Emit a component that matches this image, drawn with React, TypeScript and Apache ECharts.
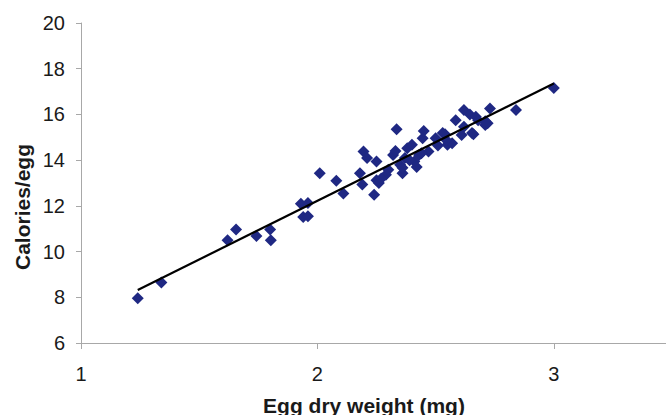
import React, { useEffect, useRef } from "react";
import * as echarts from "echarts";

const eggWeight = [
  1.24, 1.34, 1.62, 1.656, 1.742, 1.803, 1.80, 1.93, 1.94, 1.96, 1.96, 2.01, 2.08, 2.11,
  2.18, 2.19, 2.195, 2.21, 2.24, 2.25, 2.25, 2.26, 2.29, 2.30, 2.335, 2.32, 2.35, 2.36,
  2.37, 2.38, 2.40, 2.41, 2.42, 2.43, 2.445, 2.45, 2.47, 2.50, 2.51, 2.54, 2.55, 2.57,
  2.545, 2.585, 2.61, 2.62, 2.62, 2.645, 2.66, 2.67, 2.68, 2.71, 2.72, 2.73, 2.84, 3.0,
  2.27, 2.33, 2.39, 2.44, 2.53, 2.71, 2.654, 2.36,
];
const caloriesPerEgg = [
  7.96, 8.65, 10.49, 10.97, 10.68, 10.49, 10.97, 12.09, 11.51, 11.55, 12.13, 13.43, 13.10, 12.54,
  13.43, 12.93, 14.38, 14.09, 12.49, 13.94, 13.12, 13.0, 13.36, 13.58, 15.35, 14.23, 13.80, 13.43,
  14.09, 14.52, 14.67, 13.94, 13.70, 14.23, 14.96, 15.28, 14.38, 14.96, 14.64, 15.13, 14.67, 14.74,
  14.88, 15.75, 15.10, 15.46, 16.19, 16.0, 15.13, 15.90, 15.75, 15.54, 15.61, 16.26, 16.19, 17.16,
  13.2, 14.4, 14.0, 14.3, 15.19, 15.7, 15.19, 13.67,
];
const trendX = [1.24, 3.0];
const trendY = [8.32, 17.35];
const xTicks = [1, 2, 3];
const yTicks = [6, 8, 10, 12, 14, 16, 18, 20];

const FONT = "'Liberation Sans', Arial, sans-serif";

export default function App() {
  const ref = useRef<HTMLDivElement>(null);
  useEffect(() => {
    if (!ref.current) return;
    const chart = echarts.init(ref.current, undefined, { renderer: "svg" });
    const points = eggWeight.map((x, i) => [x, caloriesPerEgg[i]]);
    const trend = trendX.map((x, i) => [x, trendY[i]]);
    chart.setOption({
      animation: false,
      backgroundColor: "#ffffff",
      grid: {
        left: 81,
        top: 23,
        width: 591,
        height: 320,
        containLabel: false,
        outerBoundsMode: "none",
      },
      xAxis: {
        type: "value",
        min: 1,
        max: 3.5,
        interval: 1,
        splitLine: { show: false },
        axisLine: { show: true, lineStyle: { color: "#a8a8a8", width: 1 } },
        axisTick: {
          show: true,
          length: 6,
          customValues: xTicks,
          lineStyle: { color: "#a8a8a8" },
        },
        axisLabel: {
          margin: 21,
          fontSize: 20,
          color: "#1a1a1a",
          fontFamily: FONT,
          customValues: xTicks,
          formatter: (v: number) => String(v),
        },
      },
      yAxis: {
        type: "value",
        min: 6,
        max: 20,
        interval: 2,
        splitLine: { show: false },
        axisLine: { show: true, lineStyle: { color: "#a8a8a8", width: 1 } },
        axisTick: { show: true, length: 5, lineStyle: { color: "#a8a8a8" } },
        axisLabel: {
          margin: 16,
          fontSize: 20,
          color: "#1a1a1a",
          fontFamily: FONT,
          formatter: (v: number) => (yTicks.includes(v) ? String(v) : ""),
        },
      },
      graphic: [
        {
          type: "text",
          x: 364,
          y: 405,
          style: {
            text: "Egg dry weight (mg)",
            fontSize: 21,
            fontWeight: "bold",
            fontFamily: FONT,
            fill: "#1a1a1a",
            align: "center",
            verticalAlign: "middle",
          },
        },
        {
          type: "text",
          x: 22,
          y: 207,
          rotation: Math.PI / 2,
          style: {
            text: "Calories/egg",
            fontSize: 21,
            fontWeight: "bold",
            fontFamily: FONT,
            fill: "#1a1a1a",
            align: "center",
            verticalAlign: "middle",
          },
        },
      ],
      series: [
        {
          type: "scatter",
          name: "Eggs",
          data: points,
          symbol: "diamond",
          symbolSize: 12,
          itemStyle: { color: "#1f2883", opacity: 1 },
          z: 2,
        },
        {
          type: "line",
          name: "Trend",
          data: trend,
          symbol: "none",
          lineStyle: { color: "#000000", width: 2.2 },
          z: 3,
        },
      ],
    });
    return () => chart.dispose();
  }, []);
  return (
    <div
      ref={ref}
      style={{ position: "fixed", left: 0, top: 0, width: 666, height: 415 }}
    />
  );
}
